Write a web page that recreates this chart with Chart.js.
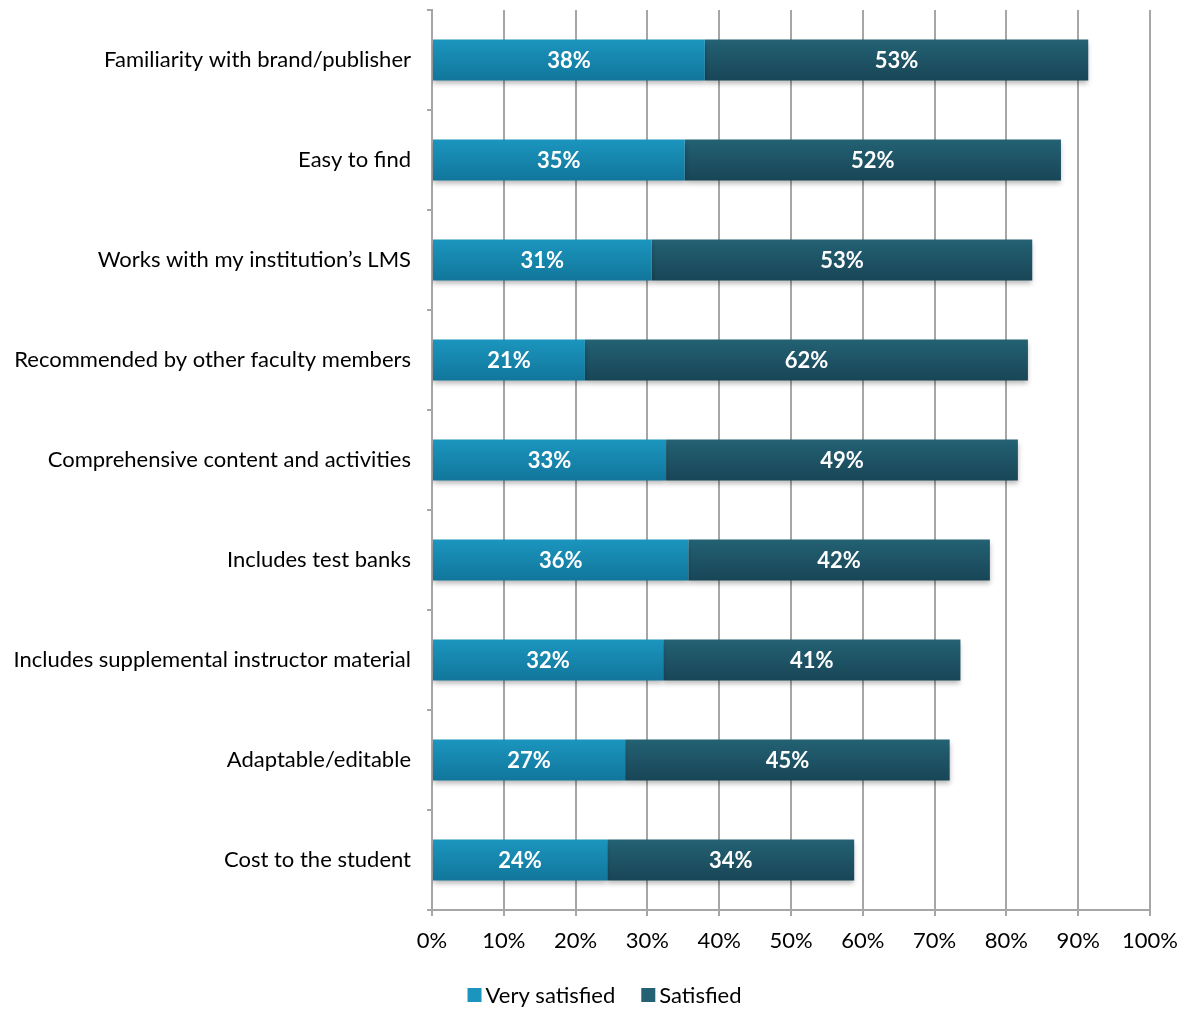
<!DOCTYPE html>
<html>
<head>
<meta charset="utf-8">
<script src="https://cdn.jsdelivr.net/npm/chart.js@4.4.1/dist/chart.umd.min.js"></script>
<style>
  html, body { margin: 0; padding: 0; background: #fff; }
  #wrap { width: 1189px; height: 1011px; }
</style>
</head>
<body>
<div id="wrap"><canvas id="chart" width="1189" height="1011"></canvas></div>
<script>
/* ─── DATA ────────────────────────────────────────────────── */
const categories = [
  'Familiarity with brand/publisher',
  'Easy to find',
  'Works with my institution\u2019s LMS',
  'Recommended by other faculty members',
  'Comprehensive content and activities',
  'Includes test banks',
  'Includes supplemental instructor material',
  'Adaptable/editable',
  'Cost to the student',
];
const verySatisfied = [38.0, 35.2, 30.6, 21.3, 32.6, 35.7, 32.2, 26.9, 24.4];
const satisfied     = [53.4, 52.4, 53.0, 61.7, 49.0, 42.0, 41.4, 45.2, 34.4];
const seriesNames   = ['Very satisfied', 'Satisfied'];
const xTicks        = [0, 10, 20, 30, 40, 50, 60, 70, 80, 90, 100];

/* ─── STYLE ───────────────────────────────────────────────── */
const FONT   = 'Lato, "Open Sans", sans-serif';
const GRID   = '#a6a6a6';
const LIGHT  = ['#1b95be', '#12769b'];
const DARK   = ['#236173', '#184657'];

function barFill(pair) {
  return c => {
    const chart = c.chart;
    if (c.type !== 'data' || !chart.chartArea || !chart.scales.y) return pair[0];
    const y = chart.scales.y.getPixelForValue(c.dataIndex);
    const g = chart.ctx.createLinearGradient(0, y - 20, 0, y + 20);
    g.addColorStop(0, pair[0]);
    g.addColorStop(1, pair[1]);
    return g;
  };
}

/* ─── PLUGINS ─────────────────────────────────────────────── */
const barShadow = {
  id: 'barShadow',
  beforeDatasetsDraw(chart) {
    const ctx = chart.ctx;
    ctx.save();
    ctx.shadowColor = 'rgba(0,0,0,0.28)';
    ctx.shadowBlur = 5;
    ctx.shadowOffsetY = 3;
  },
  afterDatasetsDraw(chart) {
    chart.ctx.restore();
  },
};

const barLabels = {
  id: 'barLabels',
  afterDatasetsDraw(chart) {
    const ctx = chart.ctx;
    ctx.save();
    ctx.fillStyle = '#fff';
    ctx.font = `bold 22px ${FONT}`;
    ctx.textAlign = 'center';
    ctx.textBaseline = 'middle';
    chart.data.datasets.forEach((ds, i) => {
      chart.getDatasetMeta(i).data.forEach((el, j) => {
        ctx.fillText(Math.round(ds.data[j]) + '%', (el.x + el.base) / 2, el.y + 1);
      });
    });
    ctx.restore();
  },
};

// small legend drawn by hand: square swatch, tight gap to the text
const swatchLegend = {
  id: 'swatchLegend',
  afterDraw(chart) {
    const ctx = chart.ctx;
    const box = 14, gap = 4, spacing = 26;
    const colors = [LIGHT[0], DARK[0]];
    ctx.save();
    ctx.font = `22px ${FONT}`;
    ctx.textBaseline = 'middle';
    ctx.fillStyle = '#000';
    const widths = seriesNames.map(n => ctx.measureText(n).width);
    const total = widths.reduce((a, w) => a + box + gap + w, 0) + spacing * (seriesNames.length - 1);
    let x = chart.width / 2 + 10 - total / 2;
    const y = chart.height - 16;
    seriesNames.forEach((n, i) => {
      ctx.fillStyle = colors[i];
      ctx.fillRect(x, y - box / 2, box, box);
      ctx.fillStyle = '#000';
      ctx.fillText(n, x + box + gap, y + 1);
      x += box + gap + widths[i] + spacing;
    });
    ctx.restore();
  },
};

/* ─── CHART ───────────────────────────────────────────────── */
new Chart(document.getElementById('chart'), {
  type: 'bar',
  data: {
    labels: categories,
    datasets: [
      { label: seriesNames[0], data: verySatisfied, backgroundColor: barFill(LIGHT) },
      { label: seriesNames[1], data: satisfied,     backgroundColor: barFill(DARK) },
    ],
  },
  options: {
    indexAxis: 'y',
    responsive: false,
    animation: false,
    barPercentage: 0.41,
    categoryPercentage: 1,
    layout: { padding: { top: 10, right: 39, left: 10, bottom: 51 } },
    plugins: {
      legend: { display: false },
      tooltip: { enabled: false },
    },
    scales: {
      x: {
        stacked: true,
        min: 0,
        max: 100,
        afterBuildTicks: s => { s.ticks = xTicks.map(v => ({ value: v })); },
        afterFit: s => { s.height = 50; s.paddingLeft = 0; s.paddingRight = 0; },
        grid: { color: GRID, lineWidth: 2, tickLength: 6, drawTicks: true },
        border: { color: GRID, width: 2 },
        ticks: {
          color: '#000',
          font: { family: FONT, size: 22 },
          padding: 12,
          maxRotation: 0,
          callback: v => v + '%',
        },
      },
      y: {
        stacked: true,
        afterFit: s => { s.width = 422; s.paddingTop = 0; s.paddingBottom = 0; },
        grid: { drawOnChartArea: false, color: GRID, lineWidth: 2, tickLength: 5, offset: true },
        border: { color: GRID, width: 2 },
        ticks: {
          color: '#000',
          font: { family: FONT, size: 22 },
          padding: 16,
        },
      },
    },
  },
  plugins: [barShadow, barLabels, swatchLegend],
});
</script>
</body>
</html>
